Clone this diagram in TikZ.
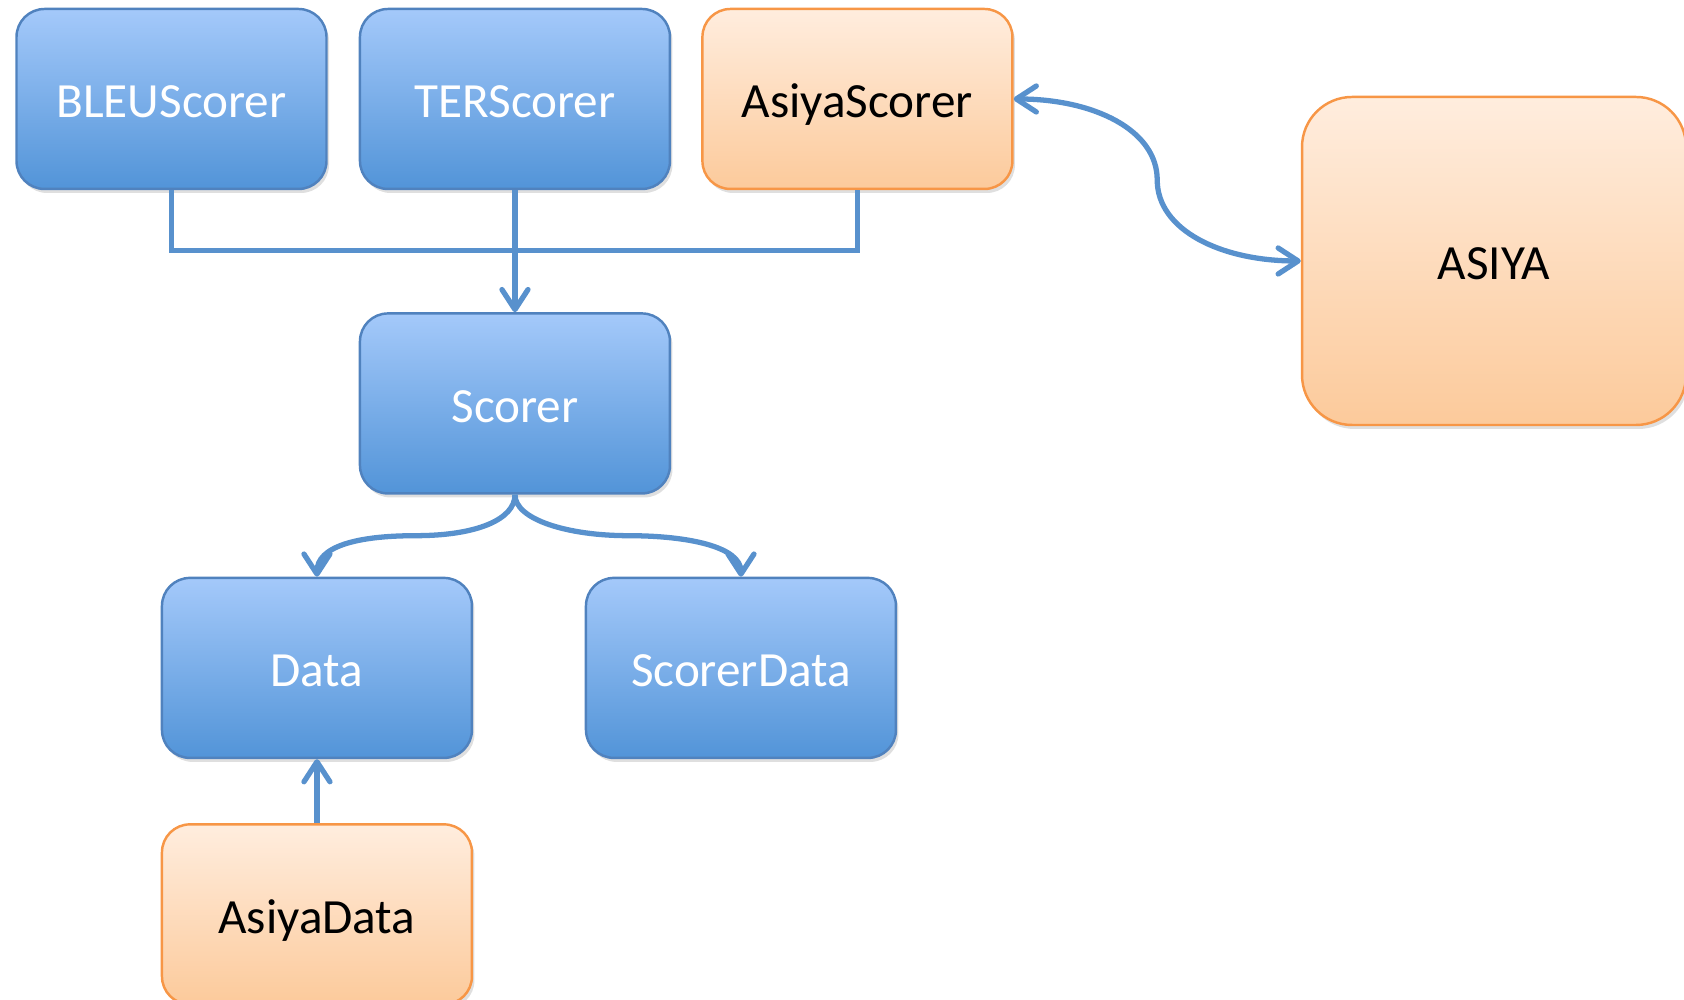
\documentclass[tikz,border=0pt]{standalone}
\usepackage{fontspec}
\setmainfont{Carlito}
\usepackage{tikz}
\usetikzlibrary{positioning,calc,arrows.meta,shadows}

\definecolor{bluetop}{RGB}{164,201,250}
\definecolor{bluebot}{RGB}{82,148,216}
\definecolor{blueline}{RGB}{80,130,190}
\definecolor{orangetop}{RGB}{255,237,222}
\definecolor{orangebot}{RGB}{252,202,155}
\definecolor{orangeline}{RGB}{247,150,70}
\definecolor{linkblue}{RGB}{88,145,205}

\begin{document}
\begin{tikzpicture}
[bluenode/.style={rectangle, rounded corners=0.28cm, draw=blueline, top color=bluetop, bottom color=bluebot, line width=0.7pt, text=white, minimum width=3.1cm, minimum height=1.8cm, font=\fontsize{14}{16}\selectfont, text height=12pt, text depth=1.2pt, drop shadow={shadow xshift=0.025cm, shadow yshift=-0.04cm, opacity=0.25}},
orangenode/.style={bluenode, draw=orangeline, top color=orangetop, bottom color=orangebot, text=black},
link/.style={draw=linkblue, line width=1.5pt},
linkarrow/.style={link, -{Straight Barb[length=2mm,width=2.6mm,round]}},
linkboth/.style={link, {Straight Barb[length=2mm,width=2.6mm,round]}-{Straight Barb[length=2mm,width=2.6mm,round]}},
]
\useasboundingbox (0,0) rectangle (16.84,10);
\node[bluenode]	(BLEU) at (1.715,9.01) {BLEUScorer};
\node[bluenode]	(TER) [right=0.31cm of BLEU] {TERScorer};
\node[orangenode]	(AsiyaScorer) [right=0.30cm of TER] {AsiyaScorer};
\node[bluenode]	(Scorer) [below=1.22cm of TER] {Scorer};
\node[bluenode]	(Data) [below=0.82cm of Scorer, xshift=-1.98cm] {Data};
\node[bluenode]	(ScorerData) [below=0.82cm of Scorer, xshift=2.26cm] {ScorerData};
\node[orangenode]	(AsiyaData) [below=0.64cm of Data] {AsiyaData};
\node[orangenode, rounded corners=0.5cm, minimum width=3.84cm, minimum height=3.28cm]	(ASIYA) at (14.94,7.39) {ASIYA};

% scorers joined into one line
\coordinate (join) at ($(TER.south)+(0,-0.6)$);
\draw[link] (BLEU.south) |- (join) -| (AsiyaScorer.south);
\draw[linkarrow] (TER.south) -- (Scorer.north);

% curved links
\coordinate (m1) at ($(Scorer.south)!0.5!(Data.north)$);
\coordinate (m2) at ($(Scorer.south)!0.5!(ScorerData.north)$);
\coordinate (m3) at ($(AsiyaScorer.east)!0.5!(ASIYA.west)$);
\draw[linkarrow] (Scorer.south) .. controls +(0,-0.25) and +(0.6,0) .. (m1) .. controls +(-0.6,0) and +(0,0.3) .. (Data.north);
\draw[linkarrow] (Scorer.south) .. controls +(0,-0.25) and +(-0.6,0) .. (m2) .. controls +(0.6,0) and +(0,0.3) .. (ScorerData.north);
\draw[linkboth] (AsiyaScorer.east) .. controls +(0.8,0) and +(0,0.5) .. (m3) .. controls +(0,-0.5) and +(-0.8,0) .. (ASIYA.west);
\draw[linkarrow] (AsiyaData.north) -- (Data.south);
\end{tikzpicture}
\end{document}
